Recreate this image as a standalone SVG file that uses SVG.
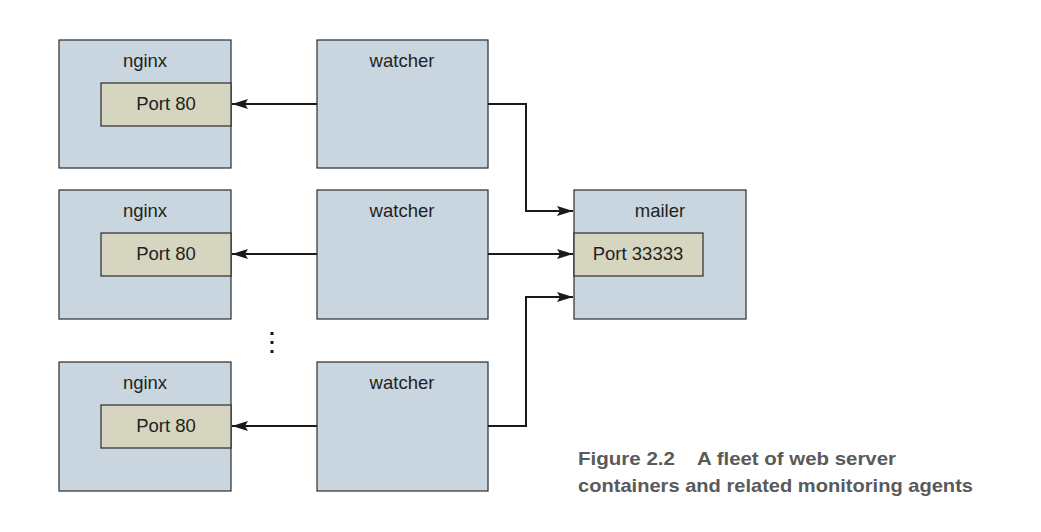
<svg xmlns="http://www.w3.org/2000/svg" width="1041" height="532" viewBox="0 0 1041 532">
<style>
.box{fill:#c9d6e0;stroke:#2b2b2b;stroke-width:1.2}
.port{fill:#d6d5c0;stroke:#2b2b2b;stroke-width:1.2}
.lbl{font-family:"Liberation Sans",Arial,sans-serif;font-size:18.5px;fill:#231f20;text-anchor:middle}
.cap{font-family:"Liberation Sans",Arial,sans-serif;font-size:19px;font-weight:bold;fill:#5a5a5a}
.wire{fill:none;stroke:#1a1a1a;stroke-width:2;marker-end:url(#ah)}
</style>
<defs>
<marker id="ah" viewBox="0 0 16 10" refX="16" refY="5" markerWidth="16" markerHeight="10" markerUnits="userSpaceOnUse" orient="auto">
<path d="M0,0 L16,5 L0,10 L3,5 Z" fill="#1a1a1a"/>
</marker>
</defs>
<rect width="1041" height="532" fill="#fff"/>
<g id="nginx1"><rect class="box" x="59" y="40" width="172" height="128"/><text class="lbl" x="145" y="67">nginx</text><rect class="port" x="101" y="83" width="130" height="43"/><text class="lbl" x="166" y="110">Port 80</text></g>
<g id="nginx2"><rect class="box" x="59" y="190" width="172" height="129"/><text class="lbl" x="145" y="217">nginx</text><rect class="port" x="101" y="233" width="130" height="43"/><text class="lbl" x="166" y="260">Port 80</text></g>
<g id="nginx3"><rect class="box" x="59" y="362" width="172" height="129"/><text class="lbl" x="145" y="389">nginx</text><rect class="port" x="101" y="405" width="130" height="43"/><text class="lbl" x="166" y="432">Port 80</text></g>
<g id="watcher1"><rect class="box" x="317" y="40" width="171" height="128"/><text class="lbl" x="402" y="67">watcher</text></g>
<g id="watcher2"><rect class="box" x="317" y="190" width="171" height="129"/><text class="lbl" x="402" y="217">watcher</text></g>
<g id="watcher3"><rect class="box" x="317" y="362" width="171" height="129"/><text class="lbl" x="402" y="389">watcher</text></g>
<g id="mailer"><rect class="box" x="574" y="190" width="172" height="129"/><text class="lbl" x="660" y="217">mailer</text><rect class="port" x="574" y="233" width="129" height="43"/><text class="lbl" x="638" y="260">Port 33333</text></g>
<g id="dots" fill="#1a1a1a"><rect x="270.5" y="332" width="3" height="3"/><rect x="270.5" y="341" width="3" height="3"/><rect x="270.5" y="350" width="3" height="3"/></g>
<g id="connectors">
<path class="wire" d="M317,104 H232"/>
<path class="wire" d="M317,254 H232"/>
<path class="wire" d="M317,426 H232"/>
<path class="wire" d="M488,104 H526 V211 H573"/>
<path class="wire" d="M488,254 H573"/>
<path class="wire" d="M488,426 H526 V297 H573"/>
</g>
<g id="caption"><text class="cap" x="578" y="465" textLength="97" lengthAdjust="spacingAndGlyphs">Figure 2.2</text><text class="cap" x="697" y="465" textLength="199" lengthAdjust="spacingAndGlyphs">A fleet of web server</text><text class="cap" x="578" y="492" textLength="395" lengthAdjust="spacingAndGlyphs">containers and related monitoring agents</text></g>
</svg>
